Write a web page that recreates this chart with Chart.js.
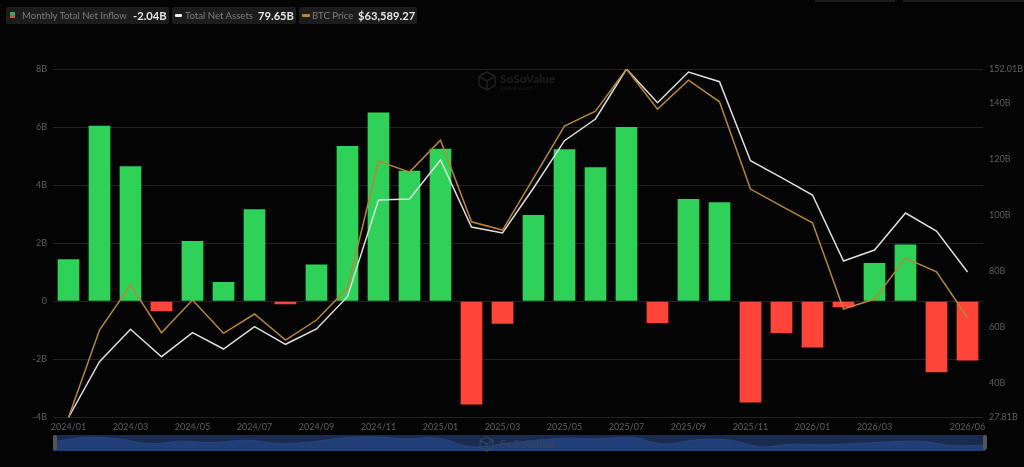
<!DOCTYPE html>
<html>
<head>
<meta charset="utf-8">
<title>Monthly Total Net Inflow</title>
<script src="https://cdn.jsdelivr.net/npm/chart.js@4"></script>
<style>
  html, body { margin: 0; padding: 0; background: #040404; }
  body { width: 1024px; height: 467px; position: relative; overflow: hidden; font-family: Lato, sans-serif; }
  #chart1 { position: absolute; left: 0; top: 0; }
  .chip { position: absolute; top: 7px; height: 17px; line-height: 17px; background: #1c1c1c; border-radius: 2px; color: #7d7d7d; font-size: 9.6px; white-space: nowrap; }
  .chip b { color: #e4e4e4; font-size: 11.2px; font-weight: 700; }
  .chip i { position: absolute; display: block; }
  .chip span { position: absolute; top: 0; }
  .top-bit { position: absolute; top: 0; height: 2px; background: #1c1c1c; }
  #nav { position: absolute; left: 53px; top: 435px; width: 932px; height: 16px; background: #1a2b50; }
  #navChart { position: absolute; left: 0; top: 0; }
  .handle { position: absolute; top: 435px; width: 4px; height: 15px; background: #555; border-radius: 2px; }
  .mark { position: absolute; color: #1f1f1f; font-weight: 700; font-size: 12px; line-height: 14px; }
  .mark small { display: block; font-size: 5px; line-height: 5px; font-weight: 400; color: #1c1c1c; }
  .hex { position: absolute; }
</style>
</head>
<body>
<canvas id="chart1" width="1024" height="467"></canvas>

<div class="top-bit" style="left:815px;width:80px"></div>
<div class="top-bit" style="left:903px;width:121px"></div>

<div class="chip" style="left:6px;width:163px">
  <i style="left:4px;top:5px;width:5px;height:3px;background:#30b060"></i>
  <i style="left:4px;top:8px;width:5px;height:3px;background:#c05a40"></i>
  <span style="left:16px">Monthly Total Net Inflow</span><span style="left:127px"><b>-2.04B</b></span>
</div>
<div class="chip" style="left:172px;width:124px">
  <i style="left:3px;top:7px;width:7px;height:3px;background:#eee;border-radius:1px"></i>
  <span style="left:13px">Total Net Assets</span><span style="left:86px"><b>79.65B</b></span>
</div>
<div class="chip" style="left:299px;width:118px">
  <i style="left:3px;top:7px;width:8px;height:3px;background:#b8863b;border-radius:1px"></i>
  <span style="left:13px">BTC Price</span><span style="left:59px"><b>$63,589.27</b></span>
</div>

<div id="nav"><canvas id="navChart" width="932" height="16"></canvas></div>
<div class="handle" style="left:53px"></div>
<div class="handle" style="left:983px"></div>

<svg class="hex" style="left:478px;top:71px" width="18" height="20" viewBox="0 0 18 20" fill="none" stroke="#1f1f1f" stroke-width="1.6"><path d="M9 1 L17 5.5 V14.5 L9 19 L1 14.5 V5.5 Z M1 5.5 L9 10 L17 5.5 M9 10 V19"/></svg>
<div class="mark" style="left:500px;top:72px">SoSoValue<small>sosovalue.com</small></div>
<svg class="hex" style="left:479px;top:436px" width="15" height="16" viewBox="0 0 18 20" fill="none" stroke="#34435f" stroke-width="1.6"><path d="M9 1 L17 5.5 V14.5 L9 19 L1 14.5 V5.5 Z M1 5.5 L9 10 L17 5.5 M9 10 V19"/></svg>
<div class="mark" style="left:500px;top:437px;color:#34435f">SoSoValue</div>

<script>
  const months = ["2024/01", "2024/02", "2024/03", "2024/04", "2024/05", "2024/06", "2024/07", "2024/08", "2024/09", "2024/10", "2024/11", "2024/12", "2025/01", "2025/02", "2025/03", "2025/04", "2025/05", "2025/06", "2025/07", "2025/08", "2025/09", "2025/10", "2025/11", "2025/12", "2026/01", "2026/02", "2026/03", "2026/04", "2026/05", "2026/06"];
  const xTickLabels = ["2024/01", "2024/03", "2024/05", "2024/07", "2024/09", "2024/11", "2025/01", "2025/03", "2025/05", "2025/07", "2025/09", "2025/11", "2026/01", "2026/03", "2026/06"];

  // billions of USD
  const netInflow = [1.45, 6.05, 4.65, -0.34, 2.08, 0.67, 3.17, -0.1, 1.27, 5.35, 6.5, 4.5, 5.25, -3.55, -0.77, 2.97, 5.24, 4.62, 6.0, -0.75, 3.52, 3.41, -3.48, -1.09, -1.59, -0.2, 1.32, 1.96, -2.44, -2.04];
  const netAssets = [27.81, 47.7, 59.24, 49.48, 58.03, 52.22, 60.17, 53.9, 59.35, 70.86, 105.32, 105.68, 119.58, 95.7, 93.56, 109.6, 126.46, 134.19, 152.01, 140.0, 150.94, 147.48, 119.33, 113.27, 107.1, 83.58, 87.5, 100.69, 94.27, 79.65];
  // USD, on its own hidden axis
  const btcPrice = [42585, 60960, 70410, 60393, 67260, 60267, 64320, 58860, 63060, 69780, 96450, 94140, 100860, 83703, 81960, 92880, 103800, 106950, 115800, 107370, 113460, 108903, 90570, 87000, 83493, 65370, 67470, 76080, 73203, 63589.27];

  const inflowTicks = [-4, -2, 0, 2, 4, 6, 8];
  const assetTicks = [27.81, 40, 60, 80, 100, 120, 140, 152.01];

  const green = "#30d158";
  const red = "#ff453a";
  const gridColor = "#232323";
  const tickColor = "#5f5f5f";

  new Chart(document.getElementById("chart1").getContext("2d"), {
    type: "bar",
    data: {
      labels: months,
      datasets: [
        {
          type: "line",
          label: "Total Net Assets",
          data: netAssets,
          yAxisID: "assets",
          borderColor: "#dedede",
          borderWidth: 1.5,
          pointRadius: 0,
          tension: 0,
          order: 1
        },
        {
          type: "line",
          label: "BTC Price",
          data: btcPrice,
          yAxisID: "btc",
          borderColor: "#b8863b",
          borderWidth: 1.5,
          pointRadius: 0,
          tension: 0,
          order: 0
        },
        {
          label: "Monthly Total Net Inflow",
          data: netInflow,
          yAxisID: "inflow",
          backgroundColor: netInflow.map(v => v >= 0 ? green : red),
          barPercentage: 0.7,
          categoryPercentage: 1,
          order: 2
        }
      ]
    },
    options: {
      responsive: false,
      animation: false,
      devicePixelRatio: 1,
      layout: { padding: { top: 69, left: 0, right: 0, bottom: 0 } },
      plugins: { legend: { display: false }, tooltip: { enabled: false } },
      scales: {
        x: {
          grid: { display: false, drawTicks: false, tickLength: 0 },
          border: { display: false },
          afterFit: s => { s.height = 49.5; },
          ticks: {
            autoSkip: false,
            maxRotation: 0,
            padding: 4,
            color: tickColor,
            font: { family: "Lato", size: 9 },
            callback: function(value) {
              const label = this.getLabelForValue(value);
              return xTickLabels.includes(label) ? label : "";
            }
          }
        },
        inflow: {
          position: "left",
          min: -4,
          max: 8,
          afterFit: s => { s.width = 53; },
          afterBuildTicks: s => { s.ticks = inflowTicks.map(v => ({ value: v })); },
          grid: { color: gridColor, drawTicks: false, tickLength: 0 },
          border: { display: false },
          ticks: {
            padding: 6,
            color: tickColor,
            font: { family: "Lato", size: 9 },
            callback: v => v === 0 ? "0" : v + "B"
          }
        },
        assets: {
          position: "right",
          min: 27.81,
          max: 152.01,
          afterFit: s => { s.width = 41; },
          afterBuildTicks: s => { s.ticks = assetTicks.map(v => ({ value: v })); },
          grid: { display: false, drawTicks: false, tickLength: 0 },
          border: { display: false },
          ticks: {
            padding: 6,
            color: tickColor,
            font: { family: "Lato", size: 9 },
            callback: v => v + "B"
          }
        },
        btc: {
          display: false,
          min: 42585,
          max: 115800
        }
      }
    }
  });

  // range slider strip under the chart
  new Chart(document.getElementById("navChart").getContext("2d"), {
    type: "line",
    data: {
      labels: months,
      datasets: [{
        data: netInflow,
        borderColor: "#27467f",
        borderWidth: 1,
        backgroundColor: "#213e78",
        fill: "start",
        pointRadius: 0,
        tension: 0.4
      }]
    },
    options: {
      responsive: false,
      animation: false,
      devicePixelRatio: 1,
      layout: { padding: 0 },
      plugins: { legend: { display: false }, tooltip: { enabled: false } },
      scales: {
        x: { display: false },
        y: { display: false, min: -8, max: 8.5 }
      }
    }
  });
</script>
</body>
</html>
